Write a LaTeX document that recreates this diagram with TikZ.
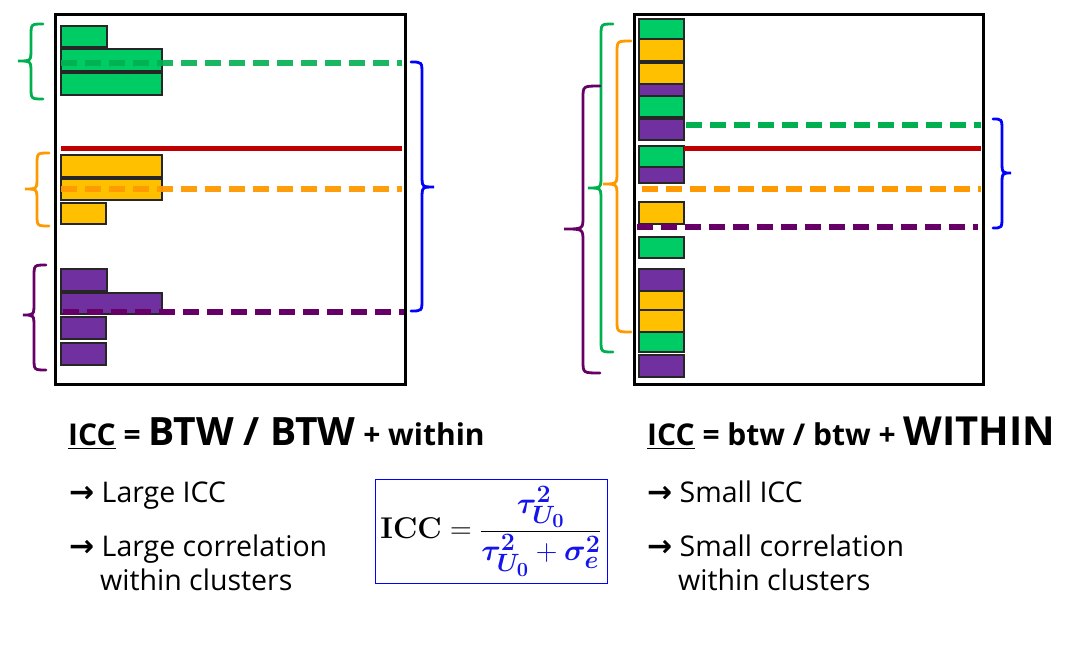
\documentclass[tikz,border=0pt]{standalone}
\usepackage{fix-cm}
\usepackage{amsmath,bm}
\usepackage[no-math]{fontspec}
\setmainfont{Open Sans}
\newfontfamily\arrowfont{DejaVu Sans}
\DeclareMathSizes{30}{30}{25}{20}
\definecolor{gbar}{RGB}{0,204,102}
\definecolor{gdash}{RGB}{0,176,80}
\definecolor{obar}{RGB}{255,192,0}
\definecolor{odash}{RGB}{255,153,0}
\definecolor{pbar}{RGB}{112,48,160}
\definecolor{pdash}{RGB}{102,0,102}
\definecolor{redl}{RGB}{192,0,0}
\definecolor{blueb}{RGB}{0,0,255}
\definecolor{fblue}{RGB}{20,20,235}
% brace: color, arm x, spine x, tip x, top y, tip y, bottom y
\newcommand{\curlybr}[7]{%
  \draw[bracestyle,#1] (#2,#5) .. controls (#3,#5) .. (#3,#5+12) -- (#3,#6-12)
    .. controls (#3,#6) .. (#4,#6) .. controls (#3,#6) .. (#3,#6+12)
    -- (#3,#7-12) .. controls (#3,#7) .. (#2,#7);}
\newcommand{\arr}{{\arrowfont\bfseries\fontsize{30}{30}\selectfont →}}
\begin{document}
\begin{tikzpicture}[x=1pt,y=-1pt,
  framebox/.style={draw=black,line width=2.6pt},
  bar/.style={draw=black!85,line width=1.3pt},
  dline/.style={line width=5.5pt,dash pattern=on 16pt off 8pt},
  redline/.style={draw=redl,line width=5pt},
  bracestyle/.style={line width=2.8pt,line cap=round},
  txt/.style={anchor=base west,inner sep=0pt,font=\fontsize{28.5}{32}\selectfont},
  head/.style={anchor=base west,inner sep=0pt,font=\bfseries\fontsize{30}{34}\selectfont}]
\useasboundingbox (0,0) rectangle (1085,654);
\fill[white] (0,0) rectangle (1085,654);
% ---------------- left panel ----------------
\draw[bar,fill=gbar] (61,26) rectangle (107,47);
\draw[bar,fill=gbar] (61,49) rectangle (162,71);
\draw[bar,fill=gbar] (61,73) rectangle (162,95);
\draw[bar,fill=obar] (61,155) rectangle (162,177);
\draw[bar,fill=obar] (61,179) rectangle (162,200);
\draw[bar,fill=obar] (61,203) rectangle (106,224);
\draw[bar,fill=pbar] (61,269) rectangle (107,291);
\draw[bar,fill=pbar] (61,293) rectangle (162,314);
\draw[bar,fill=pbar] (61,317) rectangle (106,339);
\draw[bar,fill=pbar] (61,343) rectangle (106,365);
\draw[redline] (61,148) -- (402,148);
\draw[dline,draw=gdash,draw opacity=0.9] (61,63) -- (402,63);
\draw[dline,draw=odash,draw opacity=0.95] (61,189) -- (402,189);
\draw[dline,draw=pdash] (63,312) -- (404,312);
\node[framebox,minimum width=350pt,minimum height=370pt,anchor=north west,inner sep=0pt] (L) at (54,13) {};
\curlybr{gdash}{43}{31}{18}{24}{61}{99}
\curlybr{odash}{49}{37}{25}{153}{189}{226}
\curlybr{pdash}{46}{34}{23}{265}{315}{370}
\curlybr{blueb}{411}{422}{434}{62}{187}{311}
% ---------------- right panel ----------------
\draw[bar,fill=gbar] (639,19) rectangle (684,39);
\draw[bar,fill=obar] (639,39) rectangle (684,61);
\draw[bar,fill=obar] (639,63) rectangle (684,84);
\draw[bar,fill=pbar] (639,84) rectangle (684,97);
\draw[bar,fill=gbar] (639,96) rectangle (684,117);
\draw[bar,fill=pbar] (639,119) rectangle (684,140);
\draw[bar,fill=gbar] (639,146) rectangle (684,167);
\draw[bar,fill=pbar] (639,167) rectangle (684,183);
\draw[bar,fill=obar] (639,202) rectangle (684,224);
\draw[bar,fill=gbar] (639,237) rectangle (684,258);
\draw[bar,fill=pbar] (639,269) rectangle (684,291);
\draw[bar,fill=obar] (639,291) rectangle (684,310);
\draw[bar,fill=obar] (639,310) rectangle (684,332);
\draw[bar,fill=gbar] (639,332) rectangle (684,352);
\draw[bar,fill=pbar] (639,355) rectangle (684,377);
\draw[redline] (684,148) -- (981,148);
\draw[dline,draw=gdash] (686,125) -- (981,125);
\draw[dline,draw=odash] (642,189) -- (981,189);
\draw[dline,draw=pdash] (637,227) -- (978,227);
\node[framebox,minimum width=349pt,minimum height=370pt,anchor=north west,inner sep=0pt] (R) at (633,13) {};
\curlybr{gdash}{613}{601}{588}{24}{188}{352}
\curlybr{odash}{631}{617}{603}{41}{184}{332}
\curlybr{pdash}{600}{583}{564}{86}{229}{373}
\curlybr{blueb}{993}{1002}{1011}{119}{173}{228}
% ---------------- texts ----------------
\node[head] (hl) at (68,445) {\underline{ICC} = {\fontsize{39}{44}\selectfont BTW / BTW} + within};
\node[head] (hr) at (647,445) {\underline{ICC} = btw / btw + {\fontsize{40}{44}\selectfont WITHIN}};
\node[txt] (l1) at (69,502) {\arr\ Large ICC};
\node[txt] (l2) at (69,556) {\arr\ Large correlation};
\node[txt] (l3) at (100,590) {within clusters};
\node[txt] (r1) at (647,502) {\arr\ Small ICC};
\node[txt] (r2) at (647,556) {\arr\ Small correlation};
\node[txt] (r3) at (678,590) {within clusters};
% ---------------- formula box ----------------
\node[draw=blueb,line width=1pt,minimum width=232pt,minimum height=104pt,inner sep=0pt] (fb) at (491,531) {\fontsize{30}{34}\selectfont
  $\mathbf{ICC}=\dfrac{\color{fblue}\bm{\tau}^{\mathbf{2}}_{\bm{U}_{\mathbf{0}}}}{\color{fblue}\bm{\tau}^{\mathbf{2}}_{\bm{U}_{\mathbf{0}}}+\bm{\sigma}^{\mathbf{2}}_{\bm{e}}}$};
\end{tikzpicture}
\end{document}
